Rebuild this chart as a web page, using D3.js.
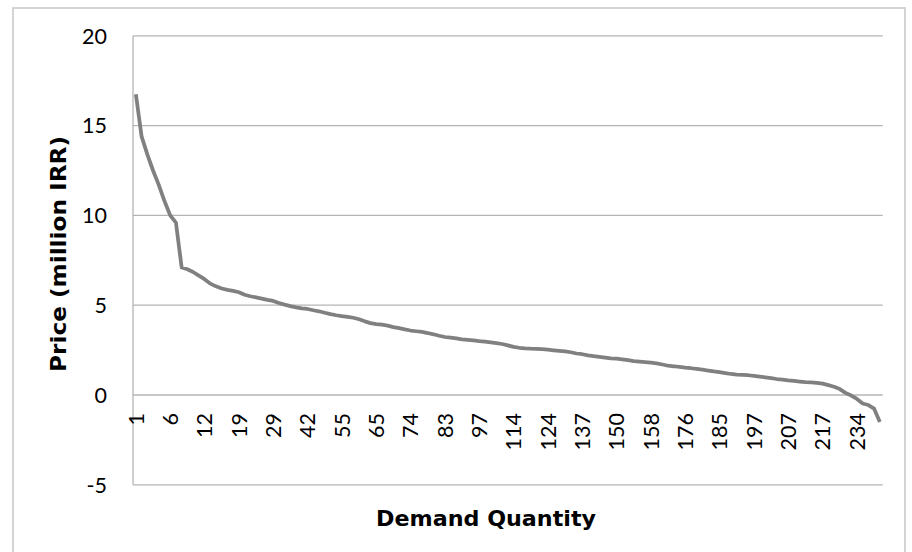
<!DOCTYPE html>
<html><head><meta charset="utf-8">
<script src="https://cdn.jsdelivr.net/npm/d3@7"></script>
<style>body{margin:0;background:#fff}</style>
</head><body><svg id="c" width="912" height="552"></svg>
<script>
// Demand quantity categories (only every 6th is labelled on the axis)
const categories = [
  1,2,3,3,4,5, 6,7,8,9,10,11, 12,13,14,16,17,18, 19,21,22,24,26,27,
  29,31,33,35,37,40, 42,44,46,48,50,53, 55,57,58,60,62,63, 65,66,68,69,71,72,
  74,75,77,78,80,81, 83,85,87,90,92,95, 97,100,103,106,108,111, 114,115,117,119,120,122,
  124,126,128,130,132,135, 137,139,141,143,145,148, 150,151,152,154,155,156,
  158,161,164,167,170,173, 176,177,179,180,182,183, 185,187,189,191,193,195,
  197,199,200,202,204,205, 207,209,210,212,214,215, 217,220,223,226,228,231,
  234,236,237,239,241
];
// Price (million IRR)
const prices = [
  16.75,14.4,13.4,12.5,11.7,10.8,10.0,9.6,7.1,7.0,
  6.85,6.65,6.45,6.2,6.05,5.93,5.85,5.8,5.72,5.58,
  5.5,5.44,5.37,5.3,5.24,5.12,5.03,4.95,4.88,4.82,
  4.79,4.72,4.66,4.58,4.5,4.44,4.39,4.35,4.3,4.22,
  4.1,4.0,3.95,3.92,3.86,3.78,3.72,3.65,3.59,3.55,
  3.51,3.45,3.38,3.3,3.23,3.19,3.15,3.1,3.07,3.04,
  3.0,2.97,2.93,2.89,2.84,2.76,2.68,2.63,2.6,2.58,
  2.57,2.55,2.52,2.49,2.46,2.43,2.38,2.31,2.27,2.21,
  2.16,2.12,2.08,2.04,2.02,1.98,1.94,1.89,1.86,1.83,
  1.8,1.76,1.7,1.63,1.6,1.56,1.52,1.49,1.45,1.41,
  1.36,1.31,1.27,1.22,1.17,1.14,1.12,1.1,1.06,1.02,
  0.98,0.94,0.89,0.85,0.81,0.78,0.75,0.72,0.7,0.68,
  0.63,0.55,0.46,0.33,0.12,-0.03,-0.22,-0.47,-0.56,-0.76,
  -1.5
];
const yTicks = [-5, 0, 5, 10, 15, 20];
const labelEvery = 6;
const xTitle = "Demand Quantity";
const yTitle = "Price (million IRR)";

const svg = d3.select("#c");
const L = 133, R = 882.7, T = 35.8, B = 484.8;

// outer chart border
svg.append("rect").attr("x", 13).attr("y", 8).attr("width", 892).attr("height", 570)
  .attr("fill", "none").attr("stroke", "#c6c6c6").attr("stroke-width", 1.5);

const idx = d3.range(categories.length);
const x = d3.scalePoint().domain(idx).range([L, R]).padding(0.5);
const y = d3.scaleLinear().domain([-5, 20]).range([B, T]);

// gridlines
svg.append("g").selectAll("line").data(yTicks).join("line")
  .attr("x1", L).attr("x2", R)
  .attr("y1", d => y(d)).attr("y2", d => y(d))
  .attr("stroke", "#b4b4b4").attr("stroke-width", 1.3);
// vertical axis line
svg.append("line").attr("x1", L).attr("x2", L).attr("y1", T).attr("y2", B)
  .attr("stroke", "#b4b4b4").attr("stroke-width", 1.3);

// y tick labels
svg.append("g").selectAll("text").data(yTicks).join("text")
  .attr("x", 107).attr("y", d => y(d)).attr("dy", "0.36em")
  .attr("text-anchor", "end")
  .attr("font-family", "Lato, 'Open Sans', sans-serif").attr("font-size", 21.5)
  .attr("fill", "#000").text(d => d);

// x tick labels (rotated)
const shown = idx.filter(i => i % labelEvery === 0);
svg.append("g").selectAll("text").data(shown).join("text")
  .attr("transform", i => `translate(${x(i)},${y(0) + 18}) rotate(-90)`)
  .attr("dy", "0.36em").attr("text-anchor", "end")
  .attr("font-family", "Lato, 'Open Sans', sans-serif").attr("font-size", 21.5)
  .attr("fill", "#000").text(i => categories[i]);

// line
const line = d3.line().x((d, i) => x(i)).y(d => y(d));
svg.append("path").datum(prices).attr("d", line)
  .attr("fill", "none").attr("stroke", "#808080").attr("stroke-width", 3.75)
  .attr("stroke-linejoin", "round");

// axis titles
svg.append("text").attr("x", 486).attr("y", 526).attr("text-anchor", "middle")
  .attr("font-family", "'DejaVu Sans', sans-serif").attr("font-weight", "bold")
  .attr("font-size", 22).attr("textLength", 220).attr("lengthAdjust", "spacingAndGlyphs")
  .text(xTitle);
svg.append("text").attr("transform", "translate(66,254) rotate(-90)")
  .attr("text-anchor", "middle")
  .attr("font-family", "'DejaVu Sans', sans-serif").attr("font-weight", "bold")
  .attr("font-size", 22).attr("textLength", 236).attr("lengthAdjust", "spacingAndGlyphs")
  .text(yTitle);
</script>
</body></html>
